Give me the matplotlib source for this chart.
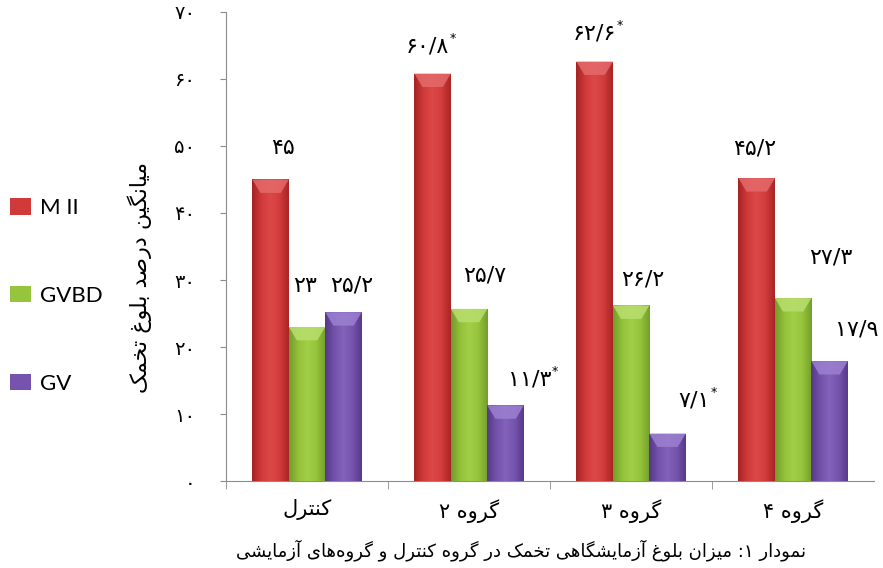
import re
import numpy as np
import matplotlib
matplotlib.use('Agg')
import matplotlib.pyplot as plt
from matplotlib.colors import LinearSegmentedColormap
from matplotlib.patches import Polygon

groups = ['کنترل', 'گروه ۲', 'گروه ۳', 'گروه ۴']
series = ['M II', 'GVBD', 'GV']
mii = [45.0, 60.8, 62.6, 45.2]
gvbd = [23.0, 25.7, 26.2, 27.3]
gv = [25.2, 11.3, 7.1, 17.9]
mii_txt = ['۴۵', '۶۰/۸', '۶۲/۶', '۴۵/۲']
gvbd_txt = ['۲۳', '۲۵/۷', '۲۶/۲', '۲۷/۳']
gv_txt = ['۲۵/۲', '۱۱/۳', '۷/۱', '۱۷/۹']
mii_star = [False, True, True, False]
gvbd_star = [False, False, False, False]
gv_star = [False, True, True, False]
yticks = [0, 10, 20, 30, 40, 50, 60, 70]
ytick_txt = ['۰', '۱۰', '۲۰', '۳۰', '۴۰', '۵۰', '۶۰', '۷۰']
ylabel = 'میانگین درصد بلوغ تخمک'
caption = 'نمودار ۱: میزان بلوغ آزمایشگاهی تخمک در گروه کنترل و گروه‌های آزمایشی'

# label nudges in pixels (dx, height above bar top), as placed in the original
nudge = [[(12, 31), (-5, 27), (0, 28), (-2, 30)],
         [(-2, 41), (16, 33), (12, 26), (38, 41)],
         [(8, 27), (24, 26), (27, 33), (27, 32)]]

# --- tiny persian shaper (matplotlib has no arabic text layout) ---
FORMS = {  # isolated, final, initial, medial
    'ا': 'ﺍﺎﺍﺎ', 'آ': 'ﺁﺂﺁﺂ', 'د': 'ﺩﺪﺩﺪ', 'ر': 'ﺭﺮﺭﺮ',
    'ز': 'ﺯﺰﺯﺰ', 'و': 'ﻭﻮﻭﻮ',
    'ب': 'ﺏﺐﺑﺒ', 'ت': 'ﺕﺖﺗﺘ', 'خ': 'ﺥﺦﺧﺨ', 'ش': 'ﺵﺶﺷﺸ',
    'ص': 'ﺹﺺﺻﺼ', 'غ': 'ﻍﻎﻏﻐ', 'ل': 'ﻝﻞﻟﻠ', 'م': 'ﻡﻢﻣﻤ',
    'ن': 'ﻥﻦﻧﻨ', 'ه': 'ﻩﻪﻫﻬ',
    'ک': '\ufb8e\ufb8f\ufb90\ufb91', 'گ': '\ufb92\ufb93\ufb94\ufb95',
    'ی': '\ufbfc\ufbfd\ufbfe\ufbff',
}
FORMS['ك'] = FORMS['ک']
FORMS['ي'] = FORMS['ی']
RIGHT_ONLY = set('اآدذرزژو')


def fa(text):
    out = []
    for i, ch in enumerate(text):
        if ch not in FORMS:
            out.append(ch)
            continue
        prev = text[i - 1] if i > 0 else ''
        nxt = text[i + 1] if i + 1 < len(text) else ''
        jp = prev in FORMS and prev not in RIGHT_ONLY
        jn = ch not in RIGHT_ONLY and nxt in FORMS
        f = FORMS[ch]
        out.append(f[3] if jp and jn else f[1] if jp else f[2] if jn else f[0])
    s = ''.join(out).replace('\u200c', '')
    runs = re.findall(r'[۰-۹/]+|[^۰-۹/]', s)
    return ''.join(reversed(runs))


plt.rcParams['font.family'] = ['DejaVu Sans']

values = [mii, gvbd, gv]
texts = [mii_txt, gvbd_txt, gv_txt]
stars = [mii_star, gvbd_star, gv_star]
base = ['#d03a3a', '#96c43c', '#7654ae']
shades = [['#a52424', '#d03a3a', '#dc4848', '#d23c3c', '#a82525'],
          ['#719c2a', '#93c23a', '#a2ce48', '#95c43b', '#739e2b'],
          ['#563888', '#7452ab', '#8262ba', '#7654ae', '#58398a']]
tops = ['#e46a6a', '#b9de6e', '#9c80d0']

fig = plt.figure(figsize=(8.83, 5.68), dpi=100)
ax = fig.add_axes([0.256, 0.153, 0.734, 0.826])

x = np.arange(len(groups))
width = 0.225
handles = []
for k in range(3):
    cmap = LinearSegmentedColormap.from_list('b%d' % k, shades[k])
    grad = cmap(np.linspace(0, 1, 64))[np.newaxis, :, :]
    bars = ax.bar(x + (k - 1) * width, values[k], width, color=base[k],
                  edgecolor='none', zorder=2, label=series[k])
    handles.append(bars)
    for j, b in enumerate(bars):
        x0, w, h = b.get_x(), b.get_width(), b.get_height()
        im = ax.imshow(grad, extent=[x0, x0 + w, 0, h], aspect='auto',
                       interpolation='bicubic', zorder=3)
        im.set_clip_path(b)
        ax.add_patch(Polygon([[x0, h], [x0 + w, h], [x0 + w * 0.78, h - 2.0],
                              [x0 + w * 0.22, h - 2.0]], closed=True,
                             facecolor=tops[k], edgecolor='none', alpha=0.85, zorder=4))
        dx, dy = nudge[k][j]
        t = ax.annotate(texts[k][j], (x0 + w / 2, h), xytext=(dx, dy),
                        textcoords='offset pixels', ha='center', va='center',
                        fontsize=16, zorder=5)
        if stars[k][j]:
            ax.annotate('*', (1, 1), xycoords=t, xytext=(0, 3),
                        textcoords='offset points', ha='left', va='top', fontsize=9)

ax.set_xlim(-0.5, 3.5)
ax.set_ylim(0, 70)
ax.set_yticks(yticks)
ax.set_yticklabels(ytick_txt, fontsize=14)
ax.set_xticks(x)
ax.set_xticklabels([fa(g) for g in groups], fontsize=15)
ax.set_xticks([-0.5, 0.5, 1.5, 2.5], minor=True)
ax.tick_params(axis='x', which='major', length=0, pad=13)
ax.tick_params(axis='x', which='minor', length=6, color='#8c8c8c')
ax.tick_params(axis='y', length=4, color='#8c8c8c', pad=18)
for s in ['top', 'right']:
    ax.spines[s].set_visible(False)
for s in ['left', 'bottom']:
    ax.spines[s].set_color('#8c8c8c')

ax.set_ylabel(fa(ylabel), fontsize=16, rotation=90)
ax.yaxis.set_label_coords(-0.115, 0.435)

fig.legend(handles=handles, labels=series, loc='center left',
           bbox_to_anchor=(0.011, 0.479), frameon=False,
           labelspacing=3.05, handlelength=0.95, handleheight=0.75,
           handletextpad=0.4, borderaxespad=0, borderpad=0,
           prop={'family': 'Lato', 'size': 16})

fig.text(0.59, 0.032, fa(caption), ha='center', va='center', fontsize=13)

fig.savefig('out.png', dpi=100)
